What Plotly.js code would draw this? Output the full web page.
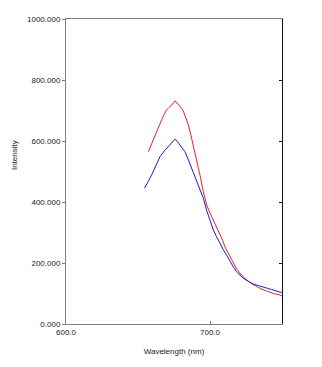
<!DOCTYPE html>
<html><head><meta charset="utf-8">
<script src="https://cdn.plot.ly/plotly-3.0.1.min.js"></script>
<style>body{margin:0;background:#fff}</style>
</head><body><div id="chart" style="width:322px;height:367px"></div>
<script>
var redX = [657.2, 659.5, 661.8, 664.1, 666.4, 668.2, 669.9, 671.6, 673.4, 675.7, 678.0, 680.3, 681.5, 683.2, 685.0, 686.7, 688.4, 690.7, 693.0, 695.4, 697.7, 700.0, 702.3, 704.6, 706.9, 708.7, 710.4, 712.2, 713.9, 716.2, 718.5, 722.0, 725.5, 729.0, 732.4, 736.0, 739.4, 744.0, 748.6, 750.0];
var redY = [565, 592, 620, 646, 669, 688, 702, 710, 718, 732, 720, 707, 698, 675, 652, 620, 587, 543, 489, 434, 390, 364, 341, 319, 297, 275, 253, 236, 221, 199, 180, 160, 144, 132, 122, 114, 108, 100, 95, 92];
var blueX = [654.4, 654.9, 657.2, 659.5, 662.4, 665.3, 668.2, 671.0, 673.4, 675.7, 677.5, 679.2, 682.6, 685.0, 687.3, 689.6, 691.9, 693.7, 695.4, 697.7, 700.0, 702.3, 704.6, 706.9, 709.2, 711.5, 713.9, 716.2, 718.5, 720.8, 723.1, 726.6, 730.1, 733.6, 737.0, 739.9, 742.8, 746.3, 749.8];
var blueY = [445, 450, 468, 489, 520, 549, 567, 582, 592, 606, 597, 587, 565, 538, 511, 483, 456, 434, 412, 372, 340, 308, 286, 264, 244, 226, 205, 187, 171, 160, 150, 140, 131, 126, 120, 117, 113, 108, 103];
var xTickVals = [600, 700];
var xTickText = ["600.0", "700.0"];
var yTickVals = [0, 200, 400, 600, 800, 1000];
var yTickText = ["0.000", "200.000", "400.000", "600.000", "800.000", "1000.000"];

var font = {family: "Liberation Sans, Arial, sans-serif", size: 8, color: "#222"};
var traces = [
  {x: redX, y: redY, type: "scatter", mode: "lines", line: {color: "#e8202a", width: 1}, hoverinfo: "skip"},
  {x: blueX, y: blueY, type: "scatter", mode: "lines", line: {color: "#1a1acc", width: 1}, hoverinfo: "skip"},
  {x: [], y: [], yaxis: "y2", type: "scatter", showlegend: false}
];
var layout = {
  width: 322, height: 367,
  margin: {l: 66, r: 40, t: 19, b: 43},
  paper_bgcolor: "#fff", plot_bgcolor: "#fff",
  showlegend: false,
  font: font,
  xaxis: {
    range: [600, 750], showgrid: false, zeroline: false,
    showline: true, linecolor: "#808080", linewidth: 1, mirror: true,
    ticks: "inside", ticklen: 3, tickcolor: "#808080",
    tickvals: xTickVals, ticktext: xTickText, tickfont: font,
    title: {text: "Wavelength (nm)", font: font, standoff: 12}
  },
  yaxis: {
    range: [0, 1000], showgrid: false, zeroline: false,
    showline: true, linecolor: "#808080", linewidth: 1,
    ticks: "outside", ticklen: 3, tickcolor: "#808080",
    tickvals: yTickVals, ticktext: yTickText, tickfont: font
  },
  yaxis2: {
    range: [0, 1000], overlaying: "y", side: "right",
    showgrid: false, zeroline: false, showline: true, linecolor: "#111", linewidth: 1,
    ticks: "inside", ticklen: 3, tickcolor: "#111",
    tickvals: yTickVals, showticklabels: false
  },
  annotations: [{
    text: "Intensity", xref: "paper", yref: "paper",
    x: -0.2407, y: 0.554, xanchor: "center", yanchor: "middle",
    textangle: -90, showarrow: false, font: font
  }]
};
Plotly.newPlot("chart", traces, layout, {displayModeBar: false, staticPlot: true});
</script></body></html>
